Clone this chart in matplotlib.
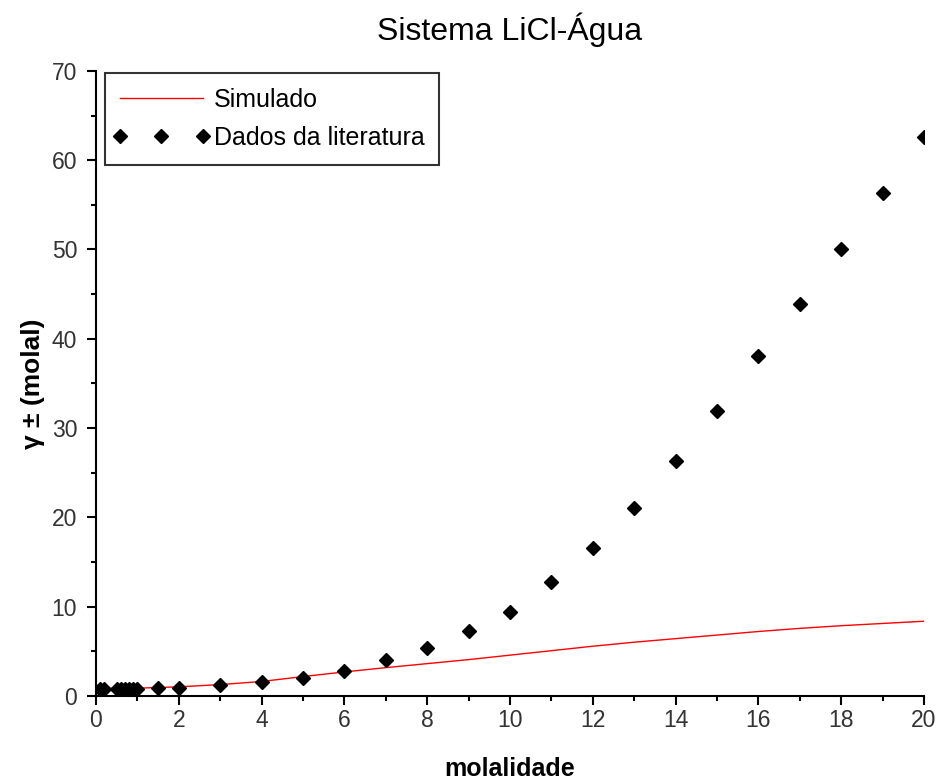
import matplotlib
matplotlib.use("Agg")
import matplotlib.pyplot as plt
from matplotlib.ticker import MultipleLocator
from matplotlib.legend_handler import HandlerLine2D

plt.rcParams['font.family'] = ['Liberation Sans', 'DejaVu Sans']

# Simulated mean ionic activity coefficient (model curve)
sim_m = [0.1, 1, 2, 3, 4, 5, 6, 7, 8, 9, 10, 11, 12, 13, 14, 15, 16, 17, 18, 19, 20]
sim_gamma = [0.82, 0.85, 1.0, 1.25, 1.6, 2.15, 2.67, 3.15, 3.6, 4.05, 4.55,
             5.05, 5.55, 6.0, 6.4, 6.8, 7.2, 7.55, 7.85, 8.1, 8.35]

# Literature data
lit_m = [0.1, 0.2, 0.5, 0.6, 0.7, 0.8, 0.9, 1.0, 1.5, 2, 3, 4, 5, 6, 7, 8, 9,
         10, 11, 12, 13, 14, 15, 16, 17, 18, 19, 20]
lit_gamma = [0.79, 0.76, 0.74, 0.74, 0.75, 0.76, 0.77, 0.77, 0.84, 0.92, 1.16,
             1.51, 2.02, 2.72, 3.97, 5.39, 7.24, 9.44, 12.7, 16.5, 21.0, 26.3,
             31.9, 38.1, 43.9, 50.0, 56.3, 62.6]

x_ticks = [0, 2, 4, 6, 8, 10, 12, 14, 16, 18, 20]
y_ticks = [0, 10, 20, 30, 40, 50, 60, 70]

fig = plt.figure(figsize=(9.41, 7.80), dpi=100)
ax = fig.add_axes([0.102, 0.108, 0.880, 0.801])

sim_line, = ax.plot(sim_m, sim_gamma, color='red', lw=1.0, label='Simulado')
lit_line, = ax.plot(lit_m, lit_gamma, linestyle='none', marker='D',
                    markersize=7.2, color='black', label='Dados da literatura')

ax.set_xlim(0, 20)
ax.set_ylim(0, 70)
ax.set_xticks(x_ticks)
ax.set_yticks(y_ticks)
ax.xaxis.set_minor_locator(MultipleLocator(1))
ax.yaxis.set_minor_locator(MultipleLocator(5))
ax.tick_params(which='major', direction='out', length=6.5, width=1.5,
               labelsize=16.5, colors='black', labelcolor='#333333')
ax.tick_params(which='minor', direction='out', length=3.5, width=1.5)
ax.tick_params(axis='y', which='major', pad=7)
ax.tick_params(axis='x', which='major', pad=3)

for side in ('top', 'right'):
    ax.spines[side].set_visible(False)
for side in ('left', 'bottom'):
    ax.spines[side].set_linewidth(1.5)

ax.set_title('Sistema LiCl-Água', fontsize=23, pad=22)
ax.set_xlabel('molalidade', fontsize=18, fontweight='bold', labelpad=18)
ax.set_ylabel('γ ± (molal)', fontsize=19, fontweight='bold', labelpad=5)

leg = ax.legend(loc='upper left', numpoints=3, fontsize=18, frameon=True,
                fancybox=False, handlelength=3.3, handletextpad=0.44,
                borderpad=0.6, labelspacing=0.55, borderaxespad=0,
                bbox_to_anchor=(0.011, 0.997),
                handler_map={lit_line: HandlerLine2D(marker_pad=0.0),
                             sim_line: HandlerLine2D(marker_pad=0.0)})
leg.get_frame().set_edgecolor('black')
leg.get_frame().set_linewidth(1.5)

fig.savefig('out.png', dpi=100)
